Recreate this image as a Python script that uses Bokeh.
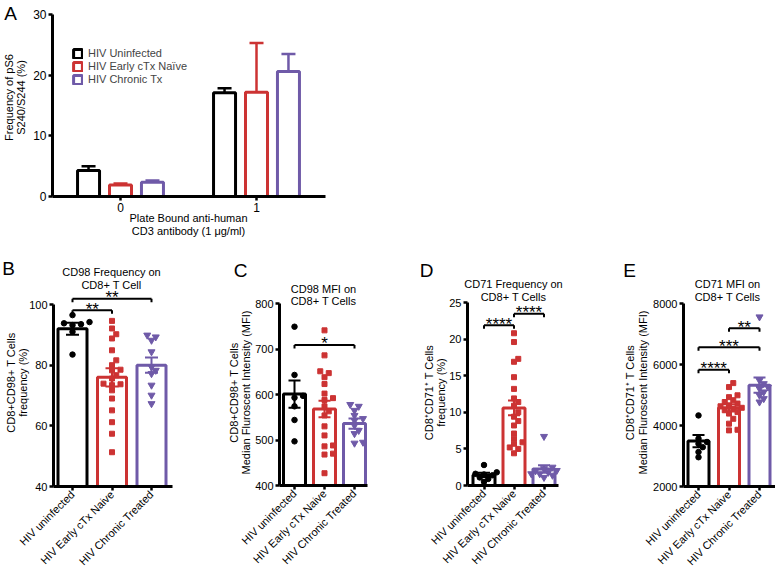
import math
from bokeh.plotting import figure
from bokeh.models import Range1d, FixedTicker, Label, Legend, LegendItem
from bokeh.layouts import column, row
from bokeh.embed import file_html
from bokeh.resources import INLINE

FONT = "Liberation Sans"
COLORS = ["#000000", "#cc3333", "#6f5aa8"]
MARKERS = ["circle", "square", "inverted_triangle"]
MARKER_SIZES = [5.5, 5, 7]

# ---------------- Panel A data ----------------
a_doses = [0, 1]
a_dose_labels = ["0", "1"]
a_series = ["HIV Uninfected", "HIV Early cTx Naïve", "HIV Chronic Tx"]
a_uninfected = [4.3, 17.1]
a_uninfected_err = [0.7, 0.75]
a_early = [1.9, 17.2]
a_early_err = [0.25, 8.1]
a_chronic = [2.35, 20.6]
a_chronic_err = [0.3, 2.9]
a_y_ticks = [0, 10, 20, 30]

# ---------------- Bottom panels data ----------------
groups = ["HIV uninfected", "HIV Early cTx Naive", "HIV Chronic Treated"]
group_pos = [0, 1, 2]

b_title = ["CD98 Frequency on", "CD8+ T Cell"]
b_ylabel = ["CD8+CD98+ T Cells", "frequency (%)"]
b_y_ticks = [40, 60, 80, 100]
b_mean = [92.0, 76.0, 80.0]
b_sem = [2.0, 3.0, 2.5]
b_uninfected = [96.5, 94.2, 93.8, 93.5, 93.2, 91.0, 83.5]
b_early = [94.6, 92.1, 90.2, 88.8, 84.9, 81.6, 80.0, 78.5, 78.3, 76.7,
           75.6, 73.9, 73.7, 73.4, 71.7, 69.0, 65.1, 61.2, 57.4, 51.3]
b_chronic = [89.9, 89.3, 88.2, 84.4, 79.4, 78.3, 77.2, 73.4, 70.1, 67.3]
b_sig = [(0, 1, 98.1, "**"), (0, 2, 101.9, "**")]

c_title = ["CD98 MFI on", "CD8+ T Cells"]
c_ylabel = ["CD8+CD98+ T Cells", "Median Fluroscent Intensity (MFI)"]
c_y_ticks = [400, 500, 600, 700, 800]
c_mean = [601, 568, 536]
c_sem = [30, 18, 11]
c_uninfected = [749, 643, 597, 593, 574, 544, 497]
c_early = [741, 686, 651, 647, 638, 623, 602, 592, 588, 574, 563, 554,
           530, 510, 488, 486, 470, 468, 427]
c_chronic = [578, 574, 565, 554, 547, 543, 532, 521, 514, 495, 493]
c_sig = [(0, 2, 709, "*")]

d_title = ["CD71 Frequency on", "CD8+ T Cells"]
d_ylabel = ["CD8\u207aCD71\u207a T Cells", "frequency (%)"]
d_y_ticks = [0, 5, 10, 15, 20, 25]
d_mean = [1.45, 10.6, 2.25]
d_sem = [0.3, 1.0, 0.5]
d_uninfected = [2.8, 1.8, 1.6, 1.5, 1.4, 1.1, 0.9, 0.5]
d_early = [20.8, 19.6, 17.3, 16.9, 14.8, 13.2, 11.9, 11.4, 10.9, 10.0,
           9.4, 8.8, 8.2, 7.1, 6.4, 5.9, 5.7, 5.2, 5.0, 4.4]
d_chronic = [6.7, 2.5, 2.3, 2.05, 2.0, 1.8, 1.6, 1.6, 1.4, 1.1]
d_sig = [(0, 1, 21.9, "****"), (1, 2, 23.45, "****")]

e_title = ["CD71 MFI on", "CD8+ T Cells"]
e_ylabel = ["CD8\u207aCD71\u207a T Cells", "Median Fluroscent Intensity (MFI)"]
e_y_ticks = [2000, 4000, 6000, 8000]
e_mean = [3490, 4580, 5320]
e_sem = [200, 120, 250]
e_uninfected = [4330, 3570, 3460, 3400, 3290, 3130, 2960]
e_early = [5390, 5260, 4990, 4930, 4830, 4770, 4720, 4660, 4630, 4580,
           4550, 4500, 4440, 4390, 4220, 4060, 3860, 3840]
e_chronic = [7560, 5480, 5370, 5260, 5210, 5100, 4990, 4880, 4770]
e_sig = [(0, 1, 5826, "****"), (0, 2, 6567, "***"), (1, 2, 7190, "**")]


# ---------------- helpers ----------------
class Panel:
    """A figure whose frame fills the whole canvas; page coordinates map to data."""
    def __init__(self, px0, py0, w, h, xa, ya):
        xd0, xp0, xd1, xp1 = xa
        self.sx = (xp1 - xp0) / (xd1 - xd0)
        self.xs = xd0 - (xp0 - px0) / self.sx
        yd0, yp0, yd1, yp1 = ya
        self.sy = (yp0 - yp1) / (yd1 - yd0)
        self.ye = yd0 + (yp0 - py0) / self.sy
        self.px0, self.py0 = px0, py0
        self.p = figure(width=w, height=h,
                        x_range=Range1d(self.xs, self.xs + w / self.sx),
                        y_range=Range1d(self.ye - h / self.sy, self.ye),
                        output_backend="svg", toolbar_location=None,
                        min_border=0)
        p = self.p
        p.outline_line_color = None
        p.xgrid.visible = False
        p.ygrid.visible = False
        p.background_fill_color = "white"
        p.border_fill_color = "white"

    def dx(self, page_x):
        return self.xs + (page_x - self.px0) / self.sx

    def dy(self, page_y):
        return self.ye - (page_y - self.py0) / self.sy

    def label(self, page_x, page_y, text, size="11px", angle=0, **kw):
        self.p.add_layout(Label(x=self.dx(page_x), y=self.dy(page_y), text=text,
                                text_font=FONT, text_font_size=size, angle=angle,
                                text_align="center", text_baseline="middle",
                                text_color="black", **kw))


def style_axes(P, x0_page, x1_page, ylo, yhi, yticks, xticks, xlabels, size, rotate):
    p = P.p
    xa = p.xaxis[0]
    ya = p.yaxis[0]
    xa.fixed_location = ylo
    xa.bounds = (P.dx(x0_page), P.dx(x1_page))
    ya.fixed_location = P.dx(x0_page)
    ya.bounds = (ylo, yhi)
    ya.ticker = FixedTicker(ticks=yticks)
    xa.ticker = FixedTicker(ticks=xticks)
    xa.major_label_overrides = {t: l for t, l in zip(xticks, xlabels)}
    for ax in (xa, ya):
        ax.axis_line_width = 3
        ax.axis_line_color = "black"
        ax.major_tick_line_width = 2.5
        ax.major_tick_line_color = "black"
        ax.major_tick_in = 0
        ax.major_tick_out = 4
        ax.minor_tick_line_color = None
        ax.major_label_text_font = FONT
        ax.major_label_text_font_size = size
        ax.major_label_text_color = "black"
        ax.major_label_standoff = 2
    if rotate:
        xa.major_label_orientation = math.pi / 4


def swarm(vals, sx, sy, d=5.0):
    order = sorted(range(len(vals)), key=lambda i: vals[i])
    placed = []
    offs = [0.0] * len(vals)
    cands = [0, 1, -1, 2, -2, 3, -3, 4, -4, 5, -5]
    for i in order:
        y = vals[i] * sy
        x = 0.0
        for k in cands:
            x = k * d * 0.85
            if all((x - qx) ** 2 + (y - qy) ** 2 >= d * d for qx, qy in placed):
                break
        placed.append((x, y))
        offs[i] = x / sx
    return offs


# ---------------- Panel A ----------------
A = Panel(0, 0, 775, 258, (0, 120, 1, 256), (0, 196, 30, 14))
pa = A.p
offs = [-0.235, 0.0, 0.235]
a_vals = [a_uninfected, a_early, a_chronic]
a_errs = [a_uninfected_err, a_early_err, a_chronic_err]
bw = 22 / A.sx
cap = 7 / A.sx
items = []
for k in range(3):
    xs = [d + offs[k] for d in a_doses]
    tops = [v + e for v, e in zip(a_vals[k], a_errs[k])]
    r = pa.vbar(x=xs, top=a_vals[k], bottom=0, width=bw, fill_color="white",
                line_color=COLORS[k], line_width=3)
    pa.segment(x0=xs, y0=a_vals[k], x1=xs, y1=tops, line_color=COLORS[k], line_width=2.5)
    pa.segment(x0=[x - cap for x in xs], y0=tops, x1=[x + cap for x in xs], y1=tops,
               line_color=COLORS[k], line_width=2.5)
    items.append(LegendItem(label=a_series[k], renderers=[r]))
legend = Legend(items=items, location=(72, 173), glyph_width=11, glyph_height=11,
                label_height=11, spacing=1, padding=0, margin=0, label_standoff=5,
                label_text_font=FONT, label_text_font_size="11px",
                border_line_color=None, background_fill_alpha=0)
pa.add_layout(legend)
style_axes(A, 52, 325, 0, 30, a_y_ticks, a_doses, a_dose_labels, "12px", False)
A.label(10, 13, "A", size="19px")
A.label(8.5, 97, "Frequency of pS6", angle=math.pi / 2)
A.label(20.5, 97, "S240/S244 (%)", angle=math.pi / 2)
A.label(188, 217, "Plate Bound anti-human")
A.label(188, 230, "CD3 antibody (1 \u03bcg/ml)")


# ---------------- Bottom panels ----------------
def bottom_panel(box, xa, ya, axis_pages, ylims, yticks, bar_px, cap_px,
                 mean, sem, pts, sig, letter, letter_pos, title, title_pos,
                 ylabel, ylabel_pos):
    P = Panel(*box, xa, ya)
    p = P.p
    bw = bar_px / P.sx
    p.vbar(x=group_pos, top=mean, bottom=ylims[0], width=bw, fill_color="white",
           line_color=COLORS, line_width=3)
    for k in range(3):
        o = swarm(pts[k], P.sx, P.sy)
        p.scatter(x=[group_pos[k] + v for v in o], y=pts[k], marker=MARKERS[k],
                  size=MARKER_SIZES[k], fill_color=COLORS[k], line_color=COLORS[k])
    c = cap_px / P.sx
    lo = [m - s for m, s in zip(mean, sem)]
    hi = [m + s for m, s in zip(mean, sem)]
    p.segment(x0=group_pos, y0=lo, x1=group_pos, y1=hi, line_color=COLORS, line_width=2)
    p.segment(x0=[g - c for g in group_pos], y0=hi, x1=[g + c for g in group_pos], y1=hi,
              line_color=COLORS, line_width=2)
    p.segment(x0=[g - c for g in group_pos], y0=lo, x1=[g + c for g in group_pos], y1=lo,
              line_color=COLORS, line_width=2)
    t = 3.5 / P.sy
    for i, j, yv, stars in sig:
        xi, xj = group_pos[i], group_pos[j]
        p.segment(x0=[xi, xi, xj], y0=[yv, yv, yv], x1=[xj, xi, xj], y1=[yv, yv - t, yv - t],
                  line_color="black", line_width=2)
        p.add_layout(Label(x=(xi + xj) / 2, y=yv, text=stars, text_font=FONT,
                           text_font_size="17px", text_align="center",
                           text_baseline="middle", y_offset=1, text_color="black"))
    style_axes(P, axis_pages[0], axis_pages[1], ylims[0], ylims[1], yticks,
               group_pos, groups, "11px", True)
    P.label(letter_pos[0], letter_pos[1], letter, size="19px")
    P.label(title_pos[0], title_pos[1], title[0])
    P.label(title_pos[0], title_pos[2], title[1])
    P.label(ylabel_pos[0], ylabel_pos[2], ylabel[0], angle=math.pi / 2)
    P.label(ylabel_pos[1], ylabel_pos[2], ylabel[1], angle=math.pi / 2)
    return p


pb = bottom_panel((0, 258, 190, 312), (0, 72, 1, 111.5), (40, 486, 100, 304),
                  (53, 172), (40, 100), b_y_ticks, 29, 6.5,
                  b_mean, b_sem, [b_uninfected, b_early, b_chronic], b_sig,
                  "B", (8, 268), b_title, (111, 271, 284), b_ylabel, (10, 22, 382))
pc = bottom_panel((190, 258, 195, 312), (0, 294, 1, 324), (400, 485, 800, 303),
                  (279, 367), (400, 800), c_y_ticks, 22, 6,
                  c_mean, c_sem, [c_uninfected, c_early, c_chronic], c_sig,
                  "C", (240, 270), c_title, (323, 288, 300), c_ylabel, (233, 245, 392))
pd_ = bottom_panel((385, 258, 195, 312), (0, 483.5, 1, 513.5), (0, 485, 25, 302),
                   (467, 558), (0, 25), d_y_ticks, 22, 6,
                   d_mean, d_sem, [d_uninfected, d_early, d_chronic], d_sig,
                   "D", (426, 270), d_title, (513, 283, 296), d_ylabel, (428, 440, 392))
pe = bottom_panel((580, 258, 195, 312), (0, 698, 1, 728.5), (2000, 486, 8000, 303),
                  (683, 775), (2000, 8000), e_y_ticks, 21, 6,
                  e_mean, e_sem, [e_uninfected, e_early, e_chronic], e_sig,
                  "E", (629, 270), e_title, (727, 283, 296), e_ylabel, (629, 642, 392))

layout = column(pa, row(pb, pc, pd_, pe, spacing=0), spacing=0)
open("out.html", "w").write(file_html(layout, INLINE))
